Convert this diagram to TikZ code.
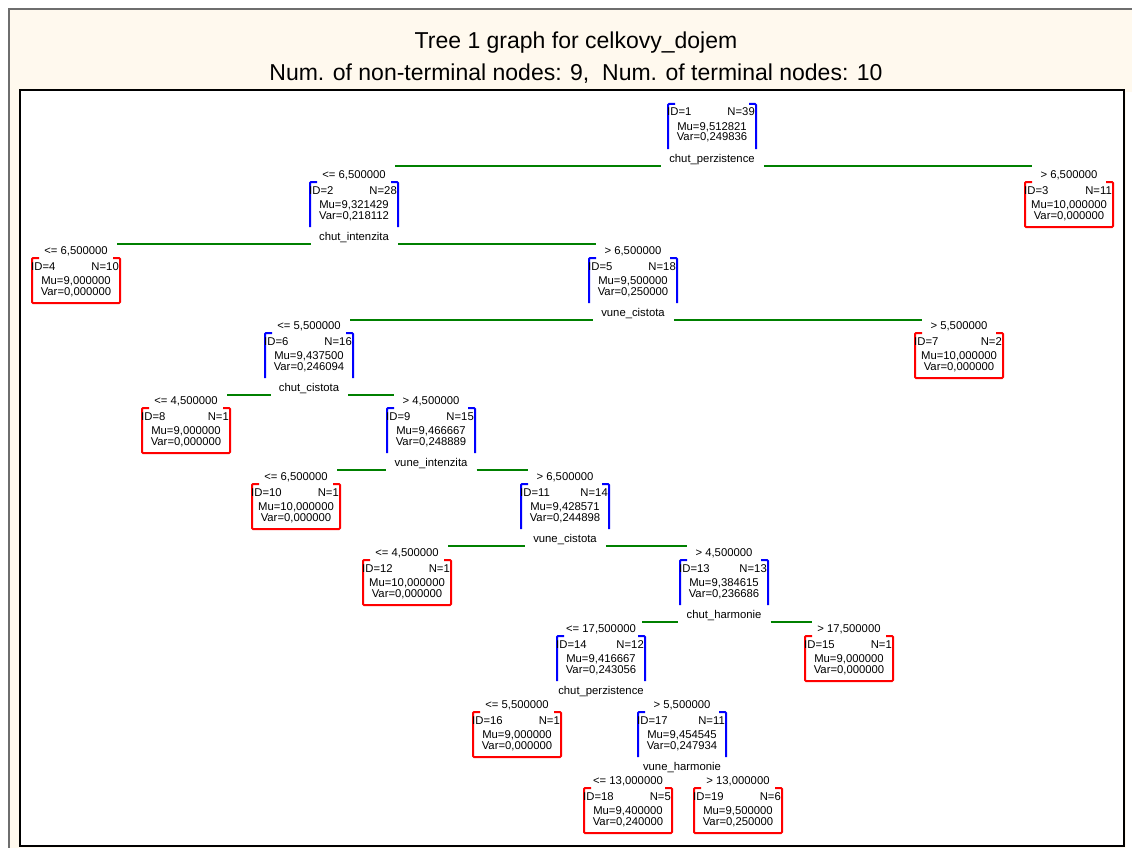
\documentclass[tikz,border=0pt]{standalone}
\usepackage{fontspec}
\setmainfont{Liberation Sans}
\usetikzlibrary{calc}
\definecolor{cream}{RGB}{255,249,238}
\definecolor{frameg}{RGB}{110,110,110}
\definecolor{splitg}{RGB}{0,128,0}
\definecolor{ntblue}{RGB}{0,0,255}
\definecolor{tmred}{RGB}{255,0,0}
\tikzset{
  boxarea/.style={minimum width=88pt,minimum height=45pt,inner sep=0pt,outer sep=0pt,draw=none},
  smalltxt/.style={font=\fontsize{11.3}{11}\selectfont,inner sep=0pt,text height=8pt,text depth=0pt},
  lbl/.style={font=\fontsize{11.3}{11}\selectfont,inner sep=0pt,text height=8pt,text depth=0pt},
  titletxt/.style={font=\fontsize{23}{23}\selectfont,inner sep=0pt,text height=17pt,text depth=0pt},
  ntside/.style={draw=ntblue,line width=2pt,rounded corners=1pt},
  tmside/.style={draw=tmred,line width=2pt,rounded corners=1pt},
  gline/.style={draw=splitg,line width=2pt}
}
\newcommand\boxtexts[5]{%
  \node[smalltxt,anchor=west] (#1id) at ($(#1.north west)+(-1,8)$) {ID=#2};
  \node[smalltxt,anchor=east] (#1n) at ($(#1.north east)+(-1,8)$) {N=#3};
  \node[smalltxt] (#1mu) at ($(#1.north)+(0,22.5)$) {Mu=#4};
  \node[smalltxt] (#1var) at ($(#1.north)+(0,33)$) {Var=#5};
}
\newcommand\ntbox[7]{%
  \node[boxarea] (#1) at (#2,#3+22.5) {};
  \draw[ntside] ($(#1.north west)+(7,0)$) -- (#1.north west) -- (#1.south west);
  \draw[ntside] ($(#1.north east)+(-7,0)$) -- (#1.north east) -- (#1.south east);
  \boxtexts{#1}{#4}{#5}{#6}{#7}
}
\newcommand\tmbox[7]{%
  \node[boxarea] (#1) at (#2,#3+22.5) {};
  \draw[tmside] ($(#1.north west)+(7,0)$) -- (#1.north west) -- (#1.south west) -- (#1.south east) -- (#1.north east) -- ($(#1.north east)+(-7,0)$);
  \boxtexts{#1}{#4}{#5}{#6}{#7}
}
\newcommand\edgelbl[2]{\node[lbl] (#1c) at ($(#1.north)+(0,-7.5)$) {#2};}
\newcommand\splitlbl[2]{\node[lbl] (#1s) at ($(#1.north)+(0,54.5)$) {#2};}
\newcommand\splitline[3]{%
  \draw[gline] ($(#2.north |- #1s.center)+(41,7)$) -- ($(#1s.west)+(-8,7)$);
  \draw[gline] ($(#1s.east)+(9,7)$) -- ($(#3.north |- #1s.center)+(-37,7)$);
}
\begin{document}
\begin{tikzpicture}[x=1pt,y=-1pt]
\useasboundingbox (0,0) rectangle (1132,848);
\fill[white] (0,0) rectangle (1132,848);
\fill[cream] (9,9) rectangle (1132,848);
\draw[frameg,line width=2pt] (9,848) -- (9,9) -- (1132,9);
\fill[white] (1126,92) rectangle (1132,848);
\draw[black,line width=2pt,fill=white] (20,90) rectangle (1124,846);

\node[titletxt] (t1) at (576,40) {Tree 1 graph for celkovy\_dojem};
\node[titletxt] (t2) at (576,72) {Num. of non-terminal nodes: 9,~~Num. of terminal nodes: 10};

\ntbox{n1}{712}{104}{1}{39}{9,512821}{0,249836}
\splitlbl{n1}{chut\_perzistence}

\ntbox{n2}{354}{182}{2}{28}{9,321429}{0,218112}
\edgelbl{n2}{<= 6,500000}
\splitlbl{n2}{chut\_intenzita}

\tmbox{n3}{1069}{182}{3}{11}{10,000000}{0,000000}
\edgelbl{n3}{> 6,500000}

\tmbox{n4}{76}{258}{4}{10}{9,000000}{0,000000}
\edgelbl{n4}{<= 6,500000}

\ntbox{n5}{633}{258}{5}{18}{9,500000}{0,250000}
\edgelbl{n5}{> 6,500000}
\splitlbl{n5}{vune\_cistota}

\ntbox{n6}{309}{333}{6}{16}{9,437500}{0,246094}
\edgelbl{n6}{<= 5,500000}
\splitlbl{n6}{chut\_cistota}

\tmbox{n7}{959}{333}{7}{2}{10,000000}{0,000000}
\edgelbl{n7}{> 5,500000}

\tmbox{n8}{186}{408}{8}{1}{9,000000}{0,000000}
\edgelbl{n8}{<= 4,500000}

\ntbox{n9}{431}{408}{9}{15}{9,466667}{0,248889}
\edgelbl{n9}{> 4,500000}
\splitlbl{n9}{vune\_intenzita}

\tmbox{n10}{296}{484}{10}{1}{10,000000}{0,000000}
\edgelbl{n10}{<= 6,500000}

\ntbox{n11}{565}{484}{11}{14}{9,428571}{0,244898}
\edgelbl{n11}{> 6,500000}
\splitlbl{n11}{vune\_cistota}

\tmbox{n12}{407}{560}{12}{1}{10,000000}{0,000000}
\edgelbl{n12}{<= 4,500000}

\ntbox{n13}{724}{560}{13}{13}{9,384615}{0,236686}
\edgelbl{n13}{> 4,500000}
\splitlbl{n13}{chut\_harmonie}

\ntbox{n14}{601}{636}{14}{12}{9,416667}{0,243056}
\edgelbl{n14}{<= 17,500000}
\splitlbl{n14}{chut\_perzistence}

\tmbox{n15}{849}{636}{15}{1}{9,000000}{0,000000}
\edgelbl{n15}{> 17,500000}

\tmbox{n16}{517}{712}{16}{1}{9,000000}{0,000000}
\edgelbl{n16}{<= 5,500000}

\ntbox{n17}{682}{712}{17}{11}{9,454545}{0,247934}
\edgelbl{n17}{> 5,500000}
\splitlbl{n17}{vune\_harmonie}

\tmbox{n18}{628}{788}{18}{5}{9,400000}{0,240000}
\edgelbl{n18}{<= 13,000000}

\tmbox{n19}{738}{788}{19}{6}{9,500000}{0,250000}
\edgelbl{n19}{> 13,000000}

\splitline{n1}{n2}{n3}
\splitline{n2}{n4}{n5}
\splitline{n5}{n6}{n7}
\splitline{n6}{n8}{n9}
\splitline{n9}{n10}{n11}
\splitline{n11}{n12}{n13}
\splitline{n13}{n14}{n15}
\end{tikzpicture}
\end{document}
